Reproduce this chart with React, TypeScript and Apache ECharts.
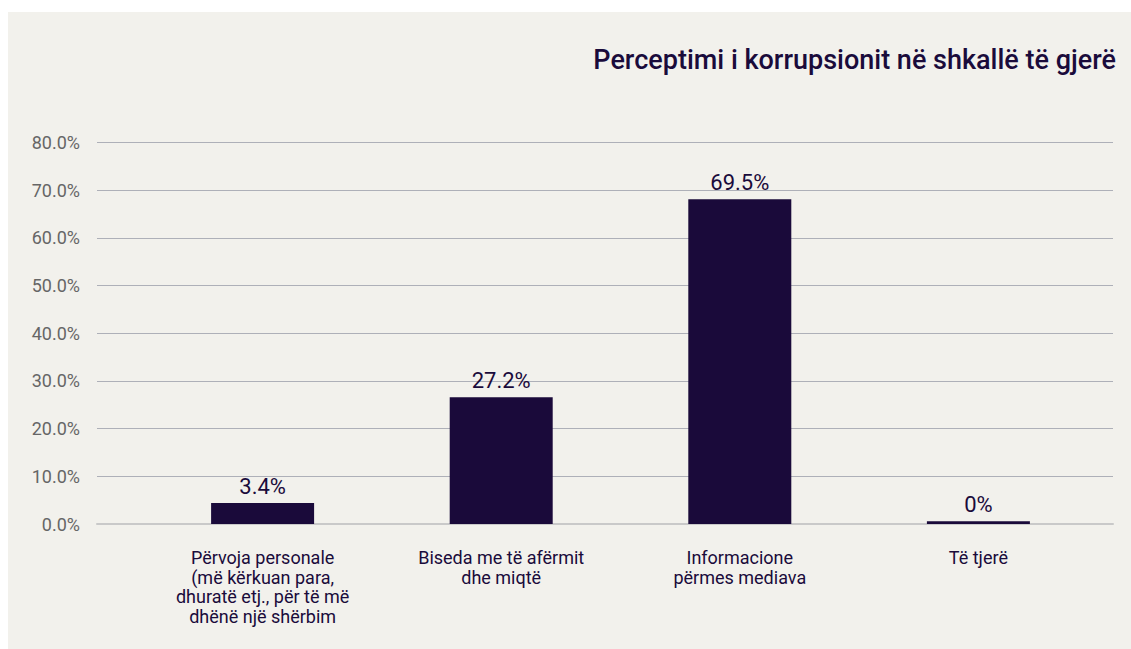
import React, { useEffect, useRef } from "react";
import * as echarts from "echarts";

const title = "Perceptimi i korrupsionit në shkallë të gjerë";
const categories = [
  "Përvoja personale\n(më kërkuan para,\ndhuratë etj., për të më\ndhënë një shërbim",
  "Biseda me të afërmit\ndhe miqtë",
  "Informacione\npërmes mediava",
  "Të tjerë",
];
// bar heights as drawn in the picture (percent)
const barHeights = [4.4, 26.6, 68.1, 0.6];
// value labels as printed above the bars
const valueLabels = ["3.4%", "27.2%", "69.5%", "0%"];
const yTicks = [0, 10, 20, 30, 40, 50, 60, 70, 80];

const NAVY = "#1a0b3b";
const FONT = "Roboto, 'DejaVu Sans', sans-serif";

export default function App() {
  const ref = useRef<HTMLDivElement>(null);
  useEffect(() => {
    if (!ref.current) return;
    const chart = echarts.init(ref.current, undefined, { renderer: "svg" });
    const yMax = yTicks[yTicks.length - 1];
    const yInterval = yTicks[1] - yTicks[0];
    chart.setOption({
      animation: false,
      backgroundColor: "#f2f1ec",
      title: {
        text: title,
        right: 10,
        top: 29,
        textStyle: { color: NAVY, fontFamily: FONT, fontSize: 27, fontWeight: 500 },
      },
      grid: [
        { left: 89, right: 18, top: 130.5, bottom: 125, containLabel: false },
        { left: 135.3, right: 33.3, top: 130.5, bottom: 125, containLabel: false },
      ],
      xAxis: [
        {
          gridIndex: 0,
          type: "value",
          min: 0,
          max: 1,
          axisLine: { show: true, onZero: true, lineStyle: { color: "#c9c9c9", width: 2 } },
          axisTick: { show: false },
          axisLabel: { show: false },
          splitLine: { show: false },
        },
        {
          gridIndex: 1,
          type: "category",
          data: categories,
          axisLine: { show: false },
          axisTick: { show: false },
          axisLabel: {
            color: NAVY,
            fontFamily: FONT,
            fontSize: 18,
            lineHeight: 19.5,
            margin: 24,
            interval: 0,
            align: "center",
          },
        },
      ],
      yAxis: [
        {
          gridIndex: 0,
          type: "value",
          min: 0,
          max: yMax,
          interval: yInterval,
          axisLine: { show: false },
          axisTick: { show: false },
          axisLabel: {
            color: "#666666",
            fontFamily: FONT,
            fontSize: 18,
            margin: 17,
            formatter: (v: number) => v.toFixed(1) + "%",
          },
          splitLine: { show: true, lineStyle: { color: "#aeb0b8", width: 1 } },
        },
        {
          gridIndex: 1,
          type: "value",
          min: 0,
          max: yMax,
          interval: yInterval,
          show: false,
          splitLine: { show: false },
        },
      ],
      series: [
        {
          type: "bar",
          xAxisIndex: 1,
          yAxisIndex: 1,
          data: barHeights,
          barWidth: 103,
          itemStyle: { color: "#1a0a3a" },
          label: {
            show: true,
            position: "top",
            distance: 6,
            color: NAVY,
            fontFamily: FONT,
            fontSize: 22,
            formatter: (p: any) => valueLabels[p.dataIndex],
          },
        },
      ],
    });
    return () => chart.dispose();
  }, []);
  return (
    <div
      ref={ref}
      style={{ position: "fixed", left: 8, top: 12, width: 1123, height: 637 }}
    />
  );
}
